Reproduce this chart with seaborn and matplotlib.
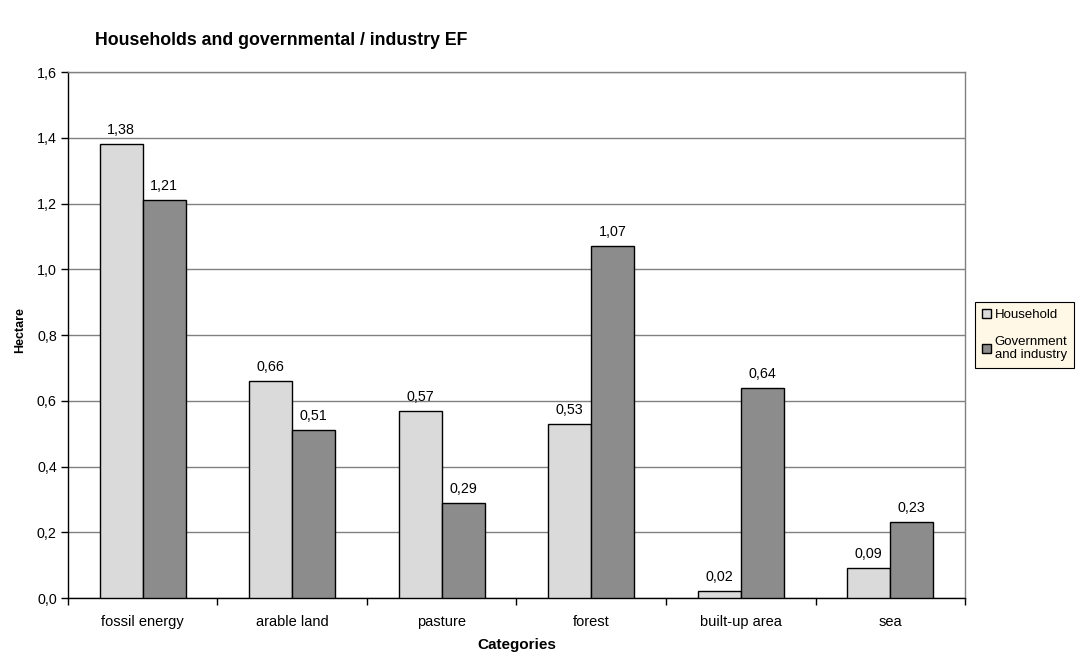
import matplotlib
matplotlib.use("Agg")
import matplotlib.pyplot as plt
import seaborn as sns
import pandas as pd

categories = ["fossil energy", "arable land", "pasture", "forest", "built-up area", "sea"]
household = [1.38, 0.66, 0.57, 0.53, 0.02, 0.09]
government = [1.21, 0.51, 0.29, 1.07, 0.64, 0.23]
series = ["Household", "Government\nand industry"]

df = pd.DataFrame({
    "Categories": categories * 2,
    "Hectare": household + government,
    "Series": [series[0]] * len(categories) + [series[1]] * len(categories),
})

sns.set_theme(style="white")
plt.rcParams["font.family"] = ["Liberation Sans", "DejaVu Sans"]
for k in ["text.color", "axes.labelcolor", "xtick.color", "ytick.color"]:
    plt.rcParams[k] = "black"

fig = plt.figure(figsize=(10.82, 6.55), dpi=100)
ax = fig.add_axes([0.0628, 0.087, 0.8291, 0.803])

palette = {series[0]: "#DADADA", series[1]: "#8C8C8C"}
sns.barplot(data=df, x="Categories", y="Hectare", hue="Series", palette=palette,
            width=0.575, edgecolor="black", linewidth=1.0, saturation=1, ax=ax,
            errorbar=None, zorder=3)

for cont in ax.containers:
    ax.bar_label(cont, labels=[f"{v:.2f}".replace(".", ",") for v in cont.datavalues],
                 padding=5, fontsize=10.3)

ax.set_ylim(0, 1.6)
ax.set_yticks([i * 0.2 for i in range(9)])
ax.set_yticklabels([f"{i*0.2:.1f}".replace(".", ",") for i in range(9)], fontsize=10.3)
ax.set_xlim(-0.5, 5.5)
ax.set_xticks(range(6))
ax.set_xticklabels(categories, fontsize=10.5)
ax.tick_params(axis="x", length=0, pad=12)
ax.tick_params(axis="y", length=5, width=1, color="black", left=True, pad=3)
ax.set_xticks([i + 0.5 for i in range(-1, 6)], minor=True)
ax.tick_params(axis="x", which="minor", length=5, width=1, color="black", bottom=True)

ax.yaxis.grid(True, color="#808080", linewidth=1, zorder=0)
ax.set_axisbelow(True)
for s in ["top", "right"]:
    ax.spines[s].set_visible(True)
    ax.spines[s].set_color("#808080")
    ax.spines[s].set_linewidth(1)
for s in ["left", "bottom"]:
    ax.spines[s].set_color("black")
    ax.spines[s].set_linewidth(1)

ax.set_xlabel("Categories", fontsize=11, fontweight="bold", labelpad=7)
ax.set_ylabel("Hectare", fontsize=9, fontweight="bold")
ax.yaxis.set_label_coords(-0.047, 0.51)

fig.text(0.088, 0.938, "Households and governmental / industry EF",
         fontsize=12.8, fontweight="bold", ha="left", va="center")

leg = ax.legend(loc="center left", bbox_to_anchor=(1.011, 0.5), fontsize=9.5,
                frameon=True, fancybox=False, edgecolor="black",
                facecolor="#FFF8E7", framealpha=1, handlelength=0.7,
                handleheight=0.7, handletextpad=0.3, labelspacing=1.1,
                borderpad=0.5, borderaxespad=0)
leg.get_frame().set_linewidth(0.8)

fig.savefig("out.png", dpi=100)
